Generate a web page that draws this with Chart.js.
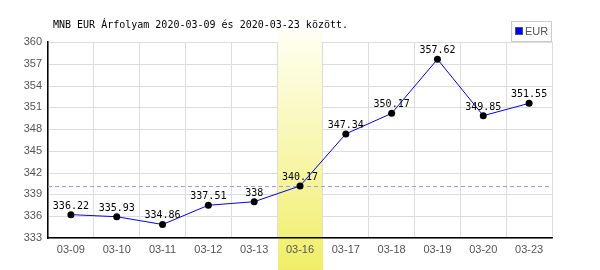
<!DOCTYPE html>
<html>
<head>
<meta charset="utf-8">
<script src="https://cdn.jsdelivr.net/npm/chart.js@4"></script>
<style>
  html, body { margin: 0; padding: 0; background: #fff; }
  #wrap { width: 600px; height: 270px; }
</style>
</head>
<body>
<div id="wrap"><canvas id="chart" width="600" height="270"></canvas></div>
<script>
// data
const dates = ['03-09', '03-10', '03-11', '03-12', '03-13', '03-16', '03-17', '03-18', '03-19', '03-20', '03-23'];
const eurRates = [336.22, 335.93, 334.86, 337.51, 338, 340.17, 347.34, 350.17, 357.62, 349.85, 351.55];
const yTicks = [333, 336, 339, 342, 345, 348, 351, 354, 357, 360];
const highlightDate = '03-16';
const refValue = 340.17;
const titleText = 'MNB EUR Árfolyam 2020-03-09 és 2020-03-23 között.';
const legendLabel = 'EUR';

const mono = '"DejaVu Sans Mono", "Liberation Mono", monospace';
const sans = '"Liberation Sans", "DejaVu Sans", sans-serif';

// horizontal grid + highlighted column, under the scales
const backdrop = {
    id: 'backdrop',
    beforeDraw(chart) {
        const {ctx, chartArea: a, scales: {x, y}} = chart;
        ctx.save();
        ctx.strokeStyle = '#dddddd';
        ctx.lineWidth = 1;
        yTicks.forEach(v => {
            const py = Math.round(y.getPixelForValue(v)) + 0.5;
            ctx.beginPath();
            ctx.moveTo(a.left, py);
            ctx.lineTo(a.right, py);
            ctx.stroke();
        });
        const i = dates.indexOf(highlightDate);
        const half = (x.getPixelForValue(1) - x.getPixelForValue(0)) / 2;
        const cx = x.getPixelForValue(i);
        const g = ctx.createLinearGradient(0, 30, 0, 270);
        g.addColorStop(0, '#fffff4');
        g.addColorStop(1, '#f0ee68');
        ctx.fillStyle = g;
        ctx.fillRect(Math.round(cx - half) + 1, 30, Math.round(2 * half) - 1, 240);
        ctx.restore();
    },
    beforeDatasetsDraw(chart) {
        const {ctx, chartArea: a, scales: {y}} = chart;
        const py = Math.round(y.getPixelForValue(refValue)) + 0.5;
        ctx.save();
        ctx.strokeStyle = '#9999ff';
        ctx.setLineDash([4, 3]);
        ctx.beginPath();
        ctx.moveTo(a.left, py);
        ctx.lineTo(a.right, py);
        ctx.stroke();
        ctx.restore();
    },
    afterDatasetsDraw(chart) {
        const {ctx} = chart;
        const meta = chart.getDatasetMeta(0);
        ctx.save();
        ctx.fillStyle = '#000';
        ctx.font = '10px ' + mono;
        ctx.textAlign = 'center';
        ctx.textBaseline = 'alphabetic';
        meta.data.forEach((pt, i) => {
            ctx.fillText(String(eurRates[i]), pt.x, pt.y - 6);
        });

        // title
        ctx.textAlign = 'left';
        ctx.textBaseline = 'middle';
        ctx.fillText(titleText, 53, 25);

        // legend box
        ctx.strokeStyle = '#cccccc';
        ctx.lineWidth = 1;
        ctx.fillStyle = '#fff';
        ctx.fillRect(511.5, 21.5, 40, 20);
        ctx.strokeRect(511.5, 21.5, 40, 20);
        ctx.fillStyle = '#0000ff';
        ctx.fillRect(516, 28, 6, 6);
        ctx.strokeStyle = '#555';
        ctx.strokeRect(515.5, 27.5, 7, 7);
        ctx.fillStyle = '#555';
        ctx.font = '11px ' + sans;
        ctx.fillText(legendLabel, 525, 32);
        ctx.restore();
    }
};

new Chart(document.getElementById('chart').getContext('2d'), {
    type: 'line',
    data: {
        labels: dates,
        datasets: [{
            label: legendLabel,
            data: eurRates,
            borderColor: '#0000ff',
            borderWidth: 1,
            tension: 0,
            pointRadius: 3.5,
            pointBackgroundColor: '#000',
            pointBorderColor: '#000',
            pointBorderWidth: 0
        }]
    },
    options: {
        responsive: false,
        animation: false,
        layout: {padding: {top: 42, right: 48, left: 0, bottom: 0}},
        plugins: {legend: {display: false}, title: {display: false}, tooltip: {enabled: false}},
        scales: {
            x: {
                offset: true,
                grid: {display: true, offset: true, color: '#dddddd', drawTicks: false},
                border: {display: true, color: '#000', width: 1.5},
                ticks: {color: '#555', font: {family: sans, size: 11}, padding: 5, maxRotation: 0, autoSkip: false},
                afterFit(s) { s.height = 32; }
            },
            y: {
                min: 333,
                max: 360,
                afterBuildTicks(s) { s.ticks = yTicks.map(v => ({value: v})); },
                grid: {display: false, drawTicks: false},
                border: {display: true, color: '#000', width: 1.5},
                ticks: {color: '#555', font: {family: sans, size: 11}, padding: 6},
                afterFit(s) { s.width = 48; }
            }
        }
    },
    plugins: [backdrop]
});
</script>
</body>
</html>
